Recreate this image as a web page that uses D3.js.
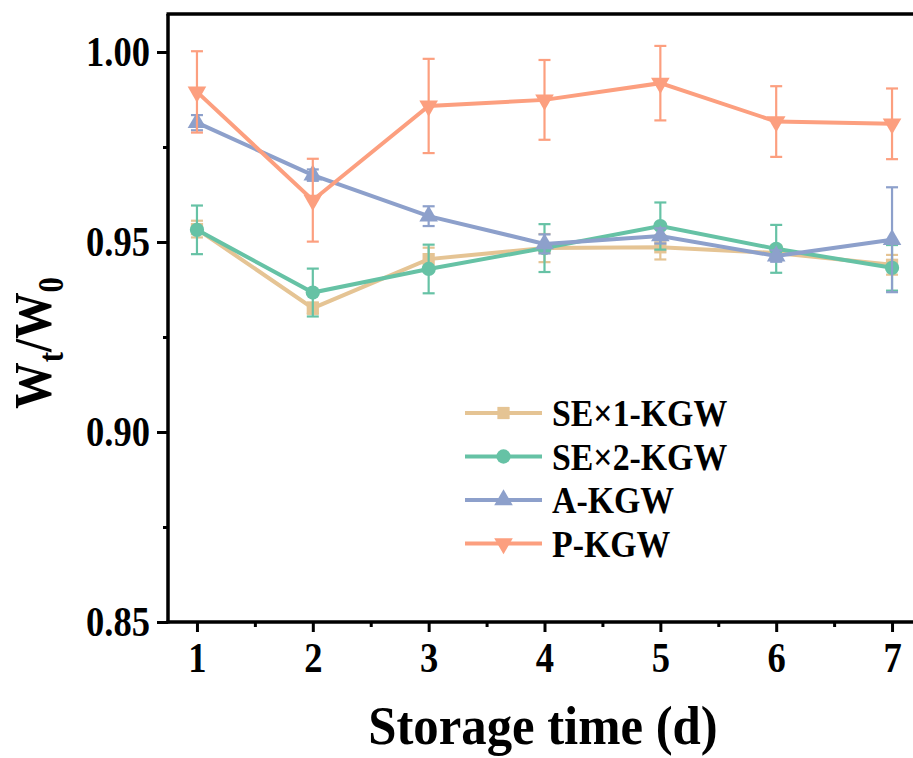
<!DOCTYPE html>
<html>
<head>
<meta charset="utf-8">
<script src="https://cdn.jsdelivr.net/npm/d3@7"></script>
<style>
  html, body { margin: 0; padding: 0; background: #fff; }
  svg { display: block; }
</style>
</head>
<body>
<div id="chart"></div>
<script>
// data
const days = [1, 2, 3, 4, 5, 6, 7];
const seriesNames = ["SE×1-KGW", "SE×2-KGW", "A-KGW", "P-KGW"];
const se1Values = [0.9534, 0.9326, 0.9455, 0.9484, 0.9486, 0.9471, 0.9440];
const se1Errors = [0.0022, 0.0015, 0.0030, 0.0037, 0.0032, 0.0020, 0.0026];
const se2Values = [0.9532, 0.9367, 0.9429, 0.9484, 0.9542, 0.9482, 0.9432];
const se2Errors = [0.0064, 0.0063, 0.0064, 0.0063, 0.0062, 0.0063, 0.0060];
const aValues = [0.9814, 0.9676, 0.9568, 0.9495, 0.9516, 0.9463, 0.9506];
const aErrors = [0.0020, 0.0015, 0.0026, 0.0025, 0.0020, 0.0015, 0.0138];
const pValues = [0.9895, 0.9610, 0.9858, 0.9874, 0.9918, 0.9817, 0.9811];
const pErrors = [0.0107, 0.0109, 0.0124, 0.0105, 0.0098, 0.0093, 0.0093];
const yTicks = [0.85, 0.90, 0.95, 1.00];

const colors = ["#E5C494", "#66C2A5", "#8DA0CB", "#FC9F7F"];
const shapes = ["square", "circle", "up", "down"];

const series = [
  { name: seriesNames[0], values: se1Values, errors: se1Errors },
  { name: seriesNames[1], values: se2Values, errors: se2Errors },
  { name: seriesNames[2], values: aValues, errors: aErrors },
  { name: seriesNames[3], values: pValues, errors: pErrors },
];

const width = 913, height = 758;
const font = "'Liberation Serif', 'Times New Roman', serif";

// the original uses a narrow bold serif, squeeze the text a little
const squeeze = (sel, sx, origin) => sel
  .style("transform-box", "fill-box")
  .style("transform-origin", origin)
  .style("transform", `scaleX(${sx})`);

const svg = d3.select("#chart").append("svg")
  .attr("width", width)
  .attr("height", height)
  .attr("font-family", font)
  .attr("font-weight", "bold");

// scales (x range runs past the right edge, like the cropped original)
const x = d3.scaleLinear().domain([0.75, 7.25]).range([168, 921]);
const y = d3.scaleLinear().domain([0.85, 1.01]).range([622, 14]);

const symbolFor = (shape) => {
  if (shape === "square") return d3.symbol(d3.symbolSquare, 150)();
  if (shape === "circle") return d3.symbol(d3.symbolCircle, 160)();
  return d3.symbol(d3.symbolTriangle, 150)();
};

// frame top line
svg.append("line")
  .attr("x1", x.range()[0] - 1.5).attr("x2", width)
  .attr("y1", y(1.01)).attr("y2", y(1.01))
  .attr("stroke", "#000").attr("stroke-width", 3.5);

// y axis
const yAxis = svg.append("g")
  .attr("transform", `translate(${x.range()[0]},0)`)
  .call(d3.axisLeft(y).tickValues(yTicks).tickFormat(d3.format(".2f")).tickSize(11).tickPadding(7));
svg.append("g")
  .attr("transform", `translate(${x.range()[0]},0)`)
  .call(d3.axisLeft(y).tickValues([0.875, 0.925, 0.975]).tickFormat("").tickSize(5))
  .call(g => g.select(".domain").remove());

// x axis
const xAxis = svg.append("g")
  .attr("transform", `translate(0,${y.range()[0]})`)
  .call(d3.axisBottom(x).tickValues(days).tickFormat(d3.format("d")).tickSize(10).tickPadding(9));
svg.append("g")
  .attr("transform", `translate(0,${y.range()[0]})`)
  .call(d3.axisBottom(x).tickValues([1.5, 2.5, 3.5, 4.5, 5.5, 6.5]).tickFormat("").tickSize(5))
  .call(g => g.select(".domain").remove());

svg.selectAll(".domain").attr("stroke-width", 3.5);
xAxis.select(".domain").attr("d", `M${x.range()[0] - 1.5},0H${width}`);
yAxis.select(".domain").attr("d", `M0,${y.range()[0] + 1.5}V${y.range()[1]}`);
svg.selectAll(".tick line").attr("stroke-width", 3);
svg.selectAll(".tick text")
  .attr("font-family", font)
  .attr("font-weight", "bold")
  .attr("font-size", 43)
  .attr("fill", "#000");
squeeze(yAxis.selectAll(".tick text"), 0.85, "100% 50%");
squeeze(xAxis.selectAll(".tick text"), 0.85, "50% 50%");

// axis titles
const xTitle = svg.append("text")
  .attr("x", 543).attr("y", 744)
  .attr("text-anchor", "middle")
  .attr("font-size", 54)
  .text("Storage time (d)");
squeeze(xTitle, 0.94, "50% 50%");

const yTitle = svg.append("g")
  .attr("transform", "translate(51,343) rotate(-90)")
  .append("text")
  .attr("text-anchor", "middle")
  .attr("font-size", 53);
yTitle.append("tspan").text("W");
yTitle.append("tspan").attr("font-size", 35).attr("dy", 12).text("t");
yTitle.append("tspan").attr("dy", -12).text("/W");
yTitle.append("tspan").attr("font-size", 35).attr("dy", 12).text("0");
squeeze(yTitle, 0.88, "50% 50%");

// series
const line = d3.line().x((d, i) => x(days[i])).y(d => y(d));
const plot = svg.append("g");

series.forEach((s, k) => {
  const g = plot.append("g");
  const c = colors[k];
  const capW = 6;
  // error bars
  const eb = g.append("g").selectAll("g")
    .data(s.values.map((v, i) => ({ x: days[i], v, e: s.errors[i] })))
    .join("g")
    .attr("stroke", c).attr("stroke-width", 2.2);
  eb.append("line")
    .attr("x1", d => x(d.x)).attr("x2", d => x(d.x))
    .attr("y1", d => y(d.v - d.e)).attr("y2", d => y(d.v + d.e));
  eb.append("line")
    .attr("x1", d => x(d.x) - capW).attr("x2", d => x(d.x) + capW)
    .attr("y1", d => y(d.v + d.e)).attr("y2", d => y(d.v + d.e));
  eb.append("line")
    .attr("x1", d => x(d.x) - capW).attr("x2", d => x(d.x) + capW)
    .attr("y1", d => y(d.v - d.e)).attr("y2", d => y(d.v - d.e));
  // line
  g.append("path")
    .attr("d", line(s.values))
    .attr("fill", "none")
    .attr("stroke", c)
    .attr("stroke-width", 4);
  // markers
  g.selectAll("path.mark")
    .data(s.values)
    .join("path")
    .attr("class", "mark")
    .attr("d", symbolFor(shapes[k]))
    .attr("fill", c)
    .attr("transform", (d, i) => `translate(${x(days[i])},${y(d)})${shapes[k] === "down" ? " rotate(180)" : ""}`);
});

// legend
const legend = svg.append("g").attr("transform", "translate(465,413)");
const rows = legend.selectAll("g")
  .data(series)
  .join("g")
  .attr("transform", (d, i) => `translate(0,${i * 43.5})`);
rows.append("line")
  .attr("x1", 0).attr("x2", 77)
  .attr("stroke", (d, i) => colors[i])
  .attr("stroke-width", 4);
rows.append("path")
  .attr("d", (d, i) => symbolFor(shapes[i]))
  .attr("fill", (d, i) => colors[i])
  .attr("transform", (d, i) => `translate(38.5,0)${shapes[i] === "down" ? " rotate(180)" : ""}`);
const legendText = rows.append("text")
  .attr("x", 87).attr("y", 13)
  .attr("font-size", 38)
  .text(d => d.name);
squeeze(legendText, 0.89, "0% 50%");
</script>
</body>
</html>
